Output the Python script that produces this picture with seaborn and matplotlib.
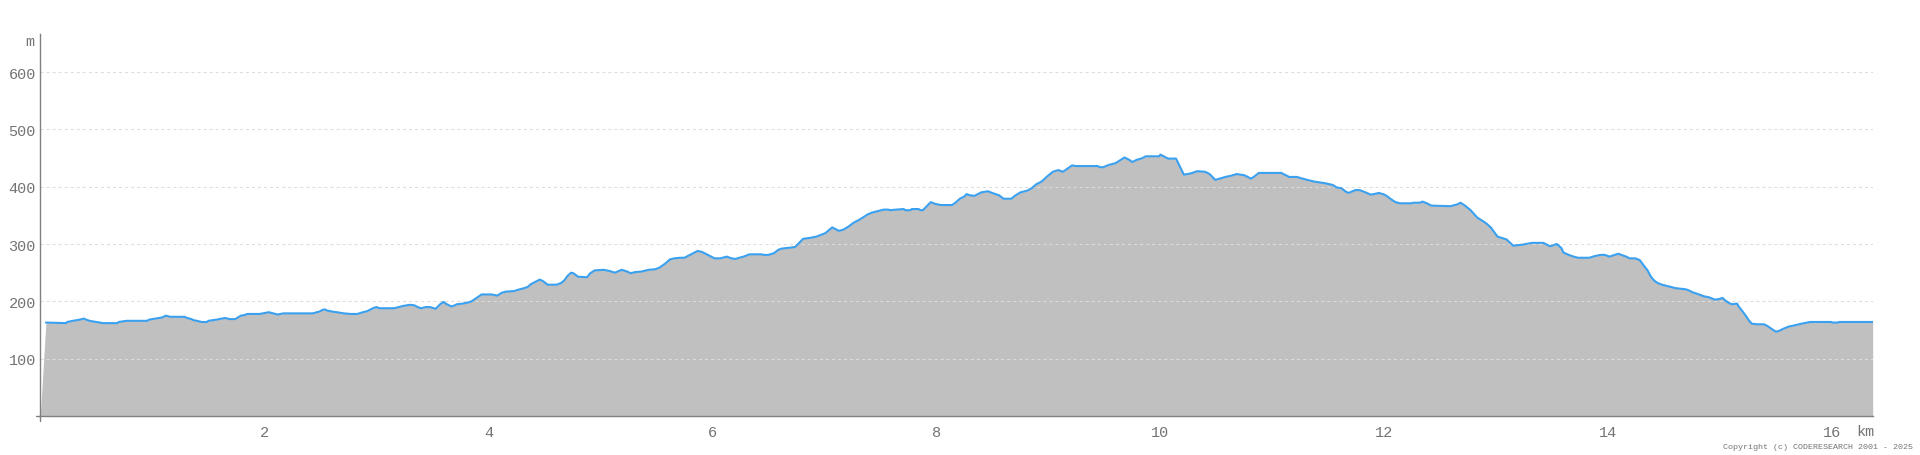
import numpy as np
import pandas as pd
import matplotlib
matplotlib.use("Agg")
import matplotlib.pyplot as plt
import seaborn as sns

# ---- data (distance in km, elevation in m) ----
km = [0.00, 0.05, 0.23, 0.24, 0.29, 0.35, 0.39, 0.41, 0.44, 0.50, 0.56, 0.69, 0.70, 0.77, 0.955,
      0.97, 1.03, 1.09, 1.12, 1.16, 1.29, 1.31, 1.35, 1.37, 1.40, 1.44, 1.49, 1.50, 1.57, 1.65,
      1.69, 1.74, 1.79, 1.82, 1.85, 1.96, 2.04, 2.08, 2.12, 2.17, 2.43, 2.49, 2.52, 2.54, 2.56,
      2.61, 2.65, 2.71, 2.77, 2.83, 2.88, 2.92, 2.95, 2.97, 3.00, 3.03, 3.16, 3.24, 3.30, 3.34,
      3.37, 3.40, 3.44, 3.48, 3.53, 3.57, 3.60, 3.62, 3.65, 3.67, 3.70, 3.72, 3.77, 3.82, 3.85,
      3.88, 3.91, 3.94, 4.03, 4.08, 4.12, 4.16, 4.23, 4.28, 4.32, 4.35, 4.38, 4.42, 4.46, 4.49,
      4.53, 4.61, 4.65, 4.68, 4.71, 4.74, 4.76, 4.80, 4.88, 4.91, 4.95, 5.03, 5.08, 5.13, 5.19,
      5.24, 5.27, 5.31, 5.37, 5.43, 5.49, 5.53, 5.58, 5.62, 5.66, 5.71, 5.75, 5.79, 5.83, 5.87,
      5.91, 5.95, 5.99, 6.02, 6.07, 6.13, 6.17, 6.21, 6.24, 6.28, 6.33, 6.44, 6.46, 6.50, 6.55,
      6.59, 6.62, 6.71, 6.74, 6.77, 6.81, 6.88, 6.93, 6.97, 7.01, 7.04, 7.07, 7.10, 7.13, 7.17,
      7.22, 7.26, 7.31, 7.35, 7.39, 7.43, 7.49, 7.53, 7.57, 7.59, 7.64, 7.71, 7.72, 7.77, 7.78,
      7.84, 7.86, 7.88, 7.95, 7.99, 8.04, 8.14, 8.17, 8.21, 8.25, 8.27, 8.30, 8.34, 8.40, 8.46,
      8.50, 8.56, 8.60, 8.67, 8.70, 8.75, 8.81, 8.85, 8.89, 8.94, 8.99, 9.04, 9.09, 9.13, 9.16,
      9.21, 9.25, 9.44, 9.46, 9.49, 9.54, 9.60, 9.64, 9.68, 9.72, 9.75, 9.79, 9.83, 9.87, 9.99,
      10.00, 10.04, 10.07, 10.14, 10.17, 10.21, 10.27, 10.33, 10.40, 10.44, 10.49, 10.53, 10.58,
      10.63, 10.68, 10.75, 10.81, 10.84, 10.88, 11.08, 11.11, 11.15, 11.22, 11.27, 11.37, 11.47,
      11.54, 11.57, 11.62, 11.65, 11.68, 11.74, 11.78, 11.82, 11.88, 11.95, 11.99, 12.02, 12.06,
      12.10, 12.14, 12.24, 12.26, 12.32, 12.34, 12.38, 12.42, 12.59, 12.61, 12.65, 12.68, 12.72,
      12.77, 12.83, 12.88, 12.91, 12.95, 12.98, 13.01, 13.06, 13.09, 13.13, 13.15, 13.19, 13.24,
      13.26, 13.32, 13.42, 13.44, 13.48, 13.54, 13.58, 13.60, 13.66, 13.69, 13.73, 13.83, 13.88,
      13.93, 13.97, 14.01, 14.04, 14.09, 14.13, 14.16, 14.19, 14.24, 14.28, 14.31, 14.35, 14.38,
      14.41, 14.44, 14.48, 14.52, 14.56, 14.60, 14.69, 14.72, 14.75, 14.81, 14.85, 14.90, 14.95,
      14.99, 15.02, 15.04, 15.07, 15.10, 15.15, 15.16, 15.20, 15.23, 15.25, 15.28, 15.33, 15.39,
      15.42, 15.45, 15.48, 15.50, 15.53, 15.56, 15.61, 15.66, 15.70, 15.75, 15.80, 15.99, 16.00,
      16.05, 16.06, 16.36]

elev = [0, 163, 162, 164, 166, 168, 170, 168, 166, 164, 162, 162, 164, 166, 166,
        168, 170, 172, 175, 173, 173, 171, 169, 167, 166, 164, 164, 166, 168, 171,
        169, 169, 175, 176, 178, 178, 181, 179, 177, 179, 179, 182, 185, 186, 184,
        182, 181, 179, 178, 178, 181, 183, 186, 188, 190, 188, 188, 192, 194, 193,
        190, 188, 190, 190, 187, 195, 199, 196, 193, 191, 193, 195, 196, 198, 200,
        204, 208, 212, 212, 210, 215, 217, 218, 221, 223, 225, 230, 234, 238, 235,
        229, 229, 232, 237, 245, 250, 249, 243, 242, 249, 254, 255, 253, 250, 255,
        252, 249, 251, 252, 255, 256, 259, 266, 273, 275, 276, 276, 280, 284, 288,
        286, 282, 278, 275, 275, 278, 275, 274, 276, 278, 282, 282, 281, 281, 284,
        290, 292, 294, 295, 301, 309, 311, 313, 316, 319, 324, 329, 326, 323, 325,
        331, 337, 342, 347, 352, 355, 358, 360, 360, 359, 360, 361, 359, 359, 361,
        361, 359, 359, 373, 370, 368, 368, 372, 379, 383, 387, 385, 384, 390, 392,
        389, 385, 379, 379, 384, 390, 393, 397, 404, 409, 418, 426, 429, 426, 430,
        437, 436, 436, 434, 434, 438, 441, 446, 451, 447, 443, 447, 449, 453, 453,
        456, 452, 449, 449, 437, 421, 423, 427, 426, 422, 412, 414, 417,
        419, 422, 420, 414, 418, 424, 424, 421, 417, 417, 414, 409, 406,
        403, 399, 397, 392, 389, 394, 394, 391, 386, 389, 387, 384, 378,
        373, 371, 371, 372, 372, 374, 371, 367, 366, 367, 369, 372, 367,
        359, 346, 340, 336, 329, 321, 313, 310, 308, 301, 297, 298, 299,
        300, 302, 302, 300, 296, 300, 293, 285, 280, 278, 276, 276, 279,
        281, 281, 278, 280, 283, 280, 278, 275, 275, 272, 264, 254, 243,
        236, 232, 229, 227, 225, 223, 221, 219, 216, 212, 209, 207, 203,
        204, 206, 202, 198, 195, 196, 192, 182, 174, 168, 161, 160, 160,
        157, 153, 149, 147, 149, 152, 156, 158, 160, 162, 164, 164, 163,
        163, 164, 164]

x_ticks = [2, 4, 6, 8, 10, 12, 14, 16]
x_tick_labels = ["2", "4", "6", "8", "10", "12", "14", "16"]
y_ticks = [100, 200, 300, 400, 500, 600]
y_tick_labels = ["100", "200", "300", "400", "500", "600"]

df = pd.DataFrame({"km": km, "elev": elev})

# ---- style ----
sns.set_theme(style="white")
plt.rcParams["font.family"] = ["Liberation Mono", "DejaVu Sans Mono"]

W, H = 1920, 456
fig = plt.figure(figsize=(W / 100, H / 100), dpi=100)
x0, x1 = 40.3, 1872.7
y_bot, y_top = 417.0, 35.0
ax = fig.add_axes([x0 / W, (H - y_bot) / H, (x1 - x0) / W, (y_bot - y_top) / H])

gray_txt = "#747474"
axis_col = "#808080"
ax.fill_between(df["km"], df["elev"], 0, color="#c0c0c0", linewidth=0, zorder=1)
sns.lineplot(data=df.iloc[1:], x="km", y="elev", ax=ax, color="#3aa0f0",
             linewidth=1.5, zorder=3, estimator=None, sort=False)

ax.set_xlim(0, 16.36)
ax.set_ylim(0, (y_bot - y_top) / 0.5733)
ax.set_xlabel("")
ax.set_ylabel("")

ax.set_xticks(x_ticks)
ax.set_xticklabels(x_tick_labels)
ax.set_yticks(y_ticks)
ax.set_yticklabels(y_tick_labels)

ax.tick_params(axis="x", direction="inout", length=5.8, width=0.75, color=axis_col,
               labelcolor=gray_txt, labelsize=11, pad=3.5)
ax.tick_params(axis="y", length=0, labelcolor=gray_txt, labelsize=11, pad=3.2)

ax.set_axisbelow("line")
ax.yaxis.grid(True, color="#dddddd", linewidth=0.75, linestyle=(0, (2.9, 2.9)))
ax.xaxis.grid(False)

for s in ["top", "right"]:
    ax.spines[s].set_visible(False)
for s in ["left", "bottom"]:
    ax.spines[s].set_color(axis_col)
    ax.spines[s].set_linewidth(1.0)
    ax.spines[s].set_zorder(4)

# small extensions of the axes past the origin
ext_x = 4.7 / (x1 - x0)
ext_y = 4.7 / (y_bot - y_top)
ax.plot([-ext_x, 0], [0, 0], transform=ax.transAxes, color=axis_col, lw=1.0, clip_on=False)
ax.plot([0, 0], [-ext_y, 0], transform=ax.transAxes, color=axis_col, lw=1.0, clip_on=False)

fig.text(30 / W, 1 - 41.7 / H, "m", ha="center", va="center", color=gray_txt, fontsize=11)
fig.text(1865.7 / W, 1 - 432.5 / H, "km", ha="center", va="center", color=gray_txt, fontsize=11)
fig.text(1913 / W, 1 - 448 / H, "Copyright (c) CODERESEARCH 2001 - 2025", ha="right",
         va="center", color=gray_txt, fontsize=6)

fig.savefig("out.png", dpi=100, facecolor="white")
